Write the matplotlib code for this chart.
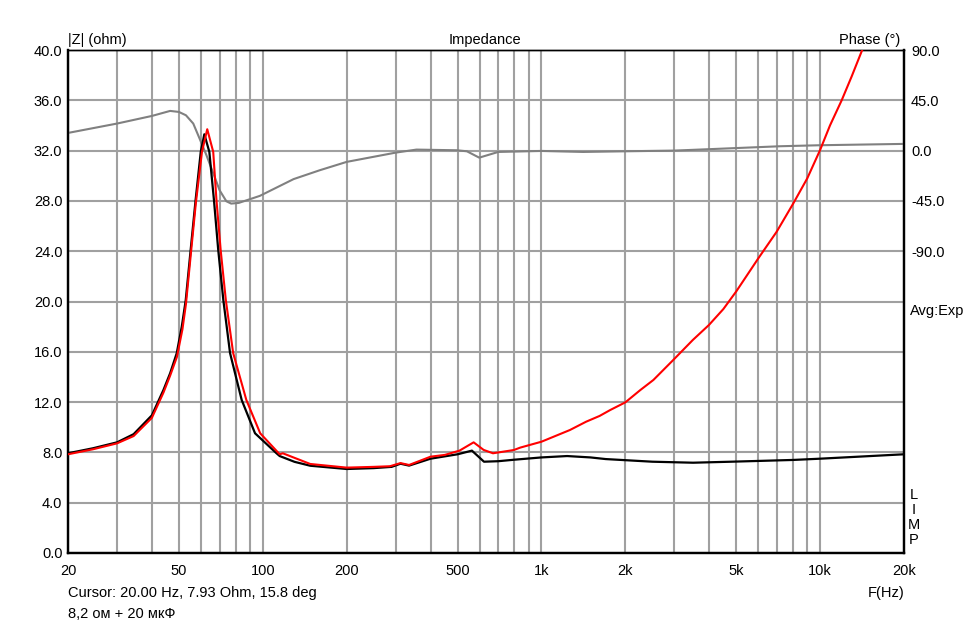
import matplotlib
matplotlib.use("Agg")
import matplotlib.pyplot as plt
from matplotlib.ticker import FixedLocator, FixedFormatter, NullFormatter

plt.rcParams['font.family'] = ['Liberation Sans', 'DejaVu Sans']

# ---------------- data ----------------
f_black = [20, 24.6, 30, 34.4, 40, 44, 46.5, 49.1, 51.2, 52.9, 55.1, 57.4, 59.9, 61.7, 64.3, 66.8,
           69.2, 72.2, 76.3, 84, 93.8, 112, 115, 130, 148, 200, 250, 290, 312, 335, 400, 440, 500,
           563, 622, 700, 800, 1000, 1236, 1500, 1700, 2500, 3500, 4800, 8000, 10000, 20000]
z_black = [7.93, 8.33, 8.8, 9.45, 10.95, 12.96, 14.29, 15.88, 18.0, 20.1, 24.1, 28.07, 31.9, 33.3, 31.9, 28.07,
           24.1, 20.1, 15.9, 12.17, 9.52, 7.93, 7.71, 7.25, 6.94, 6.68, 6.75, 6.85, 7.1, 6.95, 7.5, 7.65, 7.85,
           8.14, 7.26, 7.3, 7.42, 7.6, 7.71, 7.6, 7.47, 7.26, 7.18, 7.26, 7.4, 7.5, 7.85]

f_red = [20, 24.6, 30, 34.4, 40, 44, 46.5, 49.2, 51.5, 53, 55.2, 57.5, 60.5, 63.2, 66.4, 68.2, 70.6,
         73.7, 78.3, 87.3, 97.9, 115, 118, 148, 200, 250, 286, 312, 335, 400, 450, 508, 571, 620, 670,
         796, 839, 1000, 1265, 1446, 1617, 1765, 2000, 2264, 2522, 2972, 3493, 3990, 4496, 5000,
         6000, 6985, 8012, 8996, 10000, 10850, 11950, 12980, 14100, 14500]
z_red = [7.85, 8.25, 8.72, 9.3, 10.75, 12.75, 14.1, 15.6, 17.8, 19.8, 23.8, 27.8, 31.9, 33.7, 31.9, 28.07, 24.1,
         20.1, 15.9, 12.17, 9.52, 7.85, 7.93, 7.08, 6.79, 6.85, 6.9, 7.15, 7.0, 7.66, 7.8, 8.14, 8.8, 8.2, 7.93,
         8.19, 8.38, 8.85, 9.78, 10.44, 10.9, 11.37, 11.98, 12.96, 13.76, 15.35, 16.94, 18.13, 19.4, 20.8,
         23.43, 25.55, 27.8, 29.8, 32.05, 34.0, 36.0, 37.9, 39.9, 40.5]

f_phase = [20, 30, 40, 46.5, 50, 53, 56.3, 59.2, 62.8, 66.5, 70, 74, 77, 82, 97.6, 129, 160, 200,
           300, 356, 496, 540, 598, 700, 1000, 1410, 2000, 3000, 4500, 7200, 10000, 20000]
p_phase = [15.8, 24.2, 31.0, 35.5, 34.6, 31.6, 24.2, 11.3, -4.2, -20.6, -35.5, -45.3, -47.4, -46.8,
           -40.5, -25.5, -17.6, -10.1, -1.8, 0.9, 0.3, -0.6, -6.3, -1.2, -0.3, -1.2, -0.6, 0.0, 1.8,
           3.9, 4.8, 6.0]

x_ticks = [20, 50, 100, 200, 500, 1000, 2000, 5000, 10000, 20000]
x_labels = ['20', '50', '100', '200', '500', '1k', '2k', '5k', '10k', '20k']
z_ticks = [0, 4, 8, 12, 16, 20, 24, 28, 32, 36, 40]
z_labels = ['0.0', '4.0', '8.0', '12.0', '16.0', '20.0', '24.0', '28.0', '32.0', '36.0', '40.0']
ph_ticks = [-360, -315, -270, -225, -180, -135, -90, -45, 0, 45, 90]
ph_labels = ['', '', '', '', '', '', '-90.0', '-45.0', '0.0', '45.0', '90.0']

# ---------------- figure ----------------
W, H = 972, 626
fig = plt.figure(figsize=(W / 100, H / 100), dpi=100)
fig.patch.set_facecolor('white')

L, R, T, B = 68, 904, 50, 553
ax = fig.add_axes([L / W, (H - B) / H, (R - L) / W, (B - T) / H])
ph = ax.twinx()

# phase axis (below), carries grid and the gray curve
ax.set_zorder(2)
ph.set_zorder(1)
ax.patch.set_visible(False)
ph.patch.set_visible(True)
ph.patch.set_facecolor('white')

ax.set_xscale('log')
ax.set_xlim(20, 20000)
ax.set_ylim(0, 40)
ph.set_ylim(-360, 90)

minor = []
for dec in [10, 100, 1000, 10000]:
    for m in range(1, 10):
        v = dec * m
        if 20 <= v <= 20000 and v not in x_ticks:
            minor.append(v)
ax.xaxis.set_major_locator(FixedLocator(x_ticks))
ax.xaxis.set_major_formatter(FixedFormatter(x_labels))
ax.xaxis.set_minor_locator(FixedLocator(minor))
ax.xaxis.set_minor_formatter(NullFormatter())

ax.yaxis.set_major_locator(FixedLocator(z_ticks))
ax.yaxis.set_major_formatter(FixedFormatter(z_labels))
ph.yaxis.set_major_locator(FixedLocator(ph_ticks))
ph.yaxis.set_major_formatter(FixedFormatter(ph_labels))

gcol = '#a0a0a0'
ph.xaxis.set_visible(True)
ph.tick_params(axis='x', which='both', length=0, labelbottom=False, labeltop=False)
ph.set_axisbelow(True)
ph.grid(True, which='both', axis='x', color=gcol, lw=1.5)
ph.grid(True, which='major', axis='y', color=gcol, lw=1.5)
ax.grid(False)

ax.tick_params(axis='both', which='both', length=0, labelsize=10.5, colors='black')
ax.tick_params(axis='x', pad=8)
ax.tick_params(axis='y', pad=4)
ph.tick_params(axis='y', length=0, labelsize=10.5, pad=5)

for a in (ax, ph):
    for s in a.spines.values():
        s.set_color('black')
    a.spines['left'].set_linewidth(1.6)
    a.spines['bottom'].set_linewidth(1.6)
    a.spines['right'].set_linewidth(1.6)
    a.spines['top'].set_linewidth(1.0)

ph.plot(f_phase, p_phase, color='#808080', lw=1.5, zorder=3)
ax.plot(f_black, z_black, color='black', lw=1.6, zorder=4)
ax.plot(f_red, z_red, color='#ff0000', lw=1.5, zorder=5)


def ftext(x, y, s, **kw):
    fig.text(x / W, 1 - y / H, s, fontsize=10.5, va='center', **kw)


ftext(68, 40, '|Z| (ohm)', ha='left')
ftext(485, 40, 'Impedance', ha='center')
ftext(900, 40, 'Phase (°)', ha='right')
ftext(910, 311, 'Avg:Exp', ha='left')
for i, ch in enumerate('LIMP'):
    ftext(914, 495 + 15 * i, ch, ha='center')
ftext(904, 593, 'F(Hz)', ha='right')
ftext(68, 593, 'Cursor: 20.00 Hz, 7.93 Ohm, 15.8 deg', ha='left')
ftext(68, 614, '8,2 ом + 20 мкФ', ha='left')

fig.savefig('out.png', dpi=100, facecolor='white')
